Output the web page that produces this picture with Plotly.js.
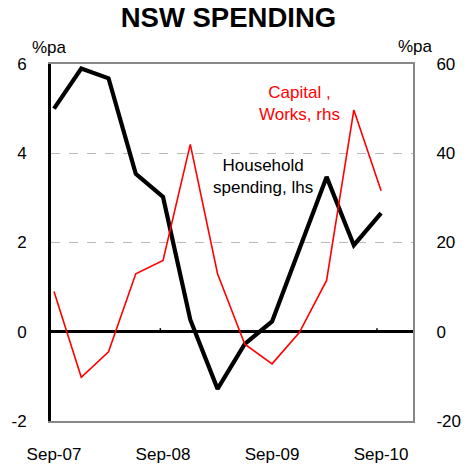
<!DOCTYPE html>
<html>
<head>
<meta charset="utf-8">
<script src="https://cdn.plot.ly/plotly-3.0.1.min.js"></script>
<style>html,body{margin:0;padding:0;background:#fff}#chart{width:473px;height:466px}</style>
</head>
<body>
<div id="chart"></div>
<script>
var quarters = ["Sep-07","Dec-07","Mar-08","Jun-08","Sep-08","Dec-08","Mar-09","Jun-09","Sep-09","Dec-09","Mar-10","Jun-10","Sep-10"];
var householdSpending = [5.0, 5.9, 5.68, 3.54, 3.02, 0.27, -1.28, -0.27, 0.23, 1.85, 3.47, 1.94, 2.66];
var capitalWorks = [9.0, -10.2, -4.5, 13.0, 16.0, 42.0, 13.0, -2.8, -7.2, -0.2, 11.5, 49.7, 31.6];
var xTickLabels = ["Sep-07","Sep-08","Sep-09","Sep-10"];
var leftTickVals = [-2, 0, 2, 4, 6];
var leftTickText = ["-2", "0", "2", "4", "6"];
var rightTickVals = [-20, 0, 20, 40, 60];
var rightTickText = ["-20", "0", "20", "40", "60"];

var font = "Liberation Sans, Arial, sans-serif";

var traces = [
  {x: quarters, y: capitalWorks, yaxis: "y2", type: "scatter", mode: "lines",
   line: {color: "#ff0000", width: 1.6}, hoverinfo: "none"},
  {x: quarters, y: householdSpending, yaxis: "y", type: "scatter", mode: "lines",
   line: {color: "#000000", width: 4.2}, hoverinfo: "none"}
];

var layout = {
  width: 473, height: 466,
  margin: {l: 51, r: 60, t: 64, b: 45},
  paper_bgcolor: "#fff", plot_bgcolor: "#fff",
  showlegend: false,
  font: {family: font, size: 17, color: "#000"},
  title: {text: "<b>NSW SPENDING</b>", x: 0.483, xanchor: "center", y: 0.984, yanchor: "top",
          font: {family: font, size: 27.5, color: "#000"}},
  xaxis: {
    type: "category", range: [-0.11, 13.17],
    tickvals: xTickLabels, ticktext: xTickLabels,
    ticks: "", showgrid: false, zeroline: false,
    showline: true, linecolor: "#888", linewidth: 2, mirror: true,
    ticklabelstandoff: 17, tickfont: {size: 17}
  },
  yaxis: {
    range: [-2, 6], tickvals: leftTickVals, ticktext: leftTickText, ticks: "",
    showgrid: true, gridcolor: "#bababa", griddash: "dash", gridwidth: 1.4,
    zeroline: true, zerolinecolor: "#000", zerolinewidth: 3,
    showline: true, linecolor: "#000", linewidth: 3,
    ticklabelstandoff: 18, tickfont: {size: 17}
  },
  yaxis2: {
    overlaying: "y", side: "right", range: [-20, 60], tickvals: rightTickVals, ticktext: rightTickText,
    ticks: "", showgrid: false, zeroline: false,
    showline: true, linecolor: "#888", linewidth: 2,
    ticklabelstandoff: 18, tickfont: {size: 17}
  },
  shapes: [
    {type: "line", xref: "x", yref: "y", x0: 3.9, x1: 3.9, y0: 0, y1: 0.08, line: {color: "#000", width: 1.5}},
    {type: "line", xref: "x", yref: "y", x0: 11.85, x1: 11.85, y0: 0, y1: 0.08, line: {color: "#000", width: 1.5}}
  ],
  annotations: [
    {text: "%pa", xref: "paper", yref: "paper", x: -0.005, y: 1.045, xanchor: "center", yanchor: "middle",
     showarrow: false, font: {size: 17}},
    {text: "%pa", xref: "paper", yref: "paper", x: 1.007, y: 1.05, xanchor: "center", yanchor: "middle",
     showarrow: false, font: {size: 17}},
    {text: "Capital ,<br>Works, rhs", xref: "x", yref: "y2", x: 8.99, y: 51.1, xanchor: "center", yanchor: "middle",
     showarrow: false, font: {size: 17, color: "#ff0000"}},
    {text: "Household<br>spending, lhs", xref: "x", yref: "y", x: 7.67, y: 3.48, xanchor: "center", yanchor: "middle",
     showarrow: false, font: {size: 17, color: "#000"}}
  ]
};

Plotly.newPlot("chart", traces, layout, {staticPlot: true, displayModeBar: false});
</script>
</body>
</html>
